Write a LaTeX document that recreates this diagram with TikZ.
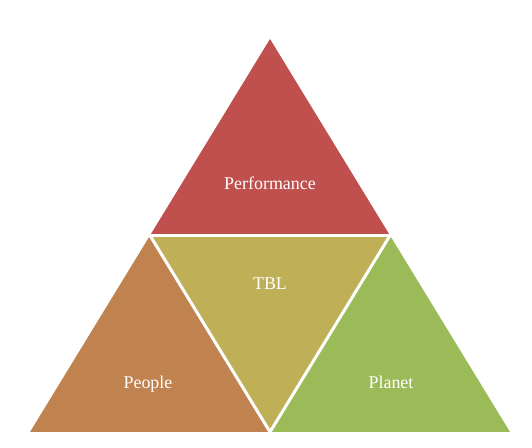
\documentclass[tikz,border=0pt]{standalone}
\usepackage{fontspec}
\setmainfont{Liberation Serif}
\newfontfamily\lblfont{Liberation Serif}
\definecolor{perfred}{HTML}{C0504D}
\definecolor{tblolive}{HTML}{BFB057}
\definecolor{peoplebrown}{HTML}{C0834F}
\definecolor{planetgreen}{HTML}{9BBB59}

\begin{document}
\begin{tikzpicture}[x=1bp,y=1bp,
    lbl/.style={text=white,anchor=base,font=\lblfont\fontsize{18}{21}\selectfont},
    gap/.style={draw=white,line width=3bp}]
    \useasboundingbox (0,0) rectangle (532,448);

    % corners of the big triangle and the midpoints
    \coordinate (top) at (270,409);
    \coordinate (bl) at (30,16);
    \coordinate (br) at (510,16);
    \coordinate (ml) at (150,212.5);
    \coordinate (mr) at (390,212.5);
    \coordinate (mb) at (270,16);

    \fill[perfred] (top) -- (ml) -- (mr) -- cycle;
    \fill[tblolive] (ml) -- (mr) -- (mb) -- cycle;
    \fill[peoplebrown] (ml) -- (bl) -- (mb) -- cycle;
    \fill[planetgreen] (mr) -- (mb) -- (br) -- cycle;

    % white seams
    \draw[gap] (ml) -- (mr);
    \draw[gap] (ml) -- (mb) -- (mr);

    \node[lbl] (perf) at (270,258) {Performance};
    \node[lbl] (tbl) at (270,158) {TBL};
    \node[lbl] (people) at (148,59) {People};
    \node[lbl] (planet) at (391,59) {Planet};
\end{tikzpicture}
\end{document}
